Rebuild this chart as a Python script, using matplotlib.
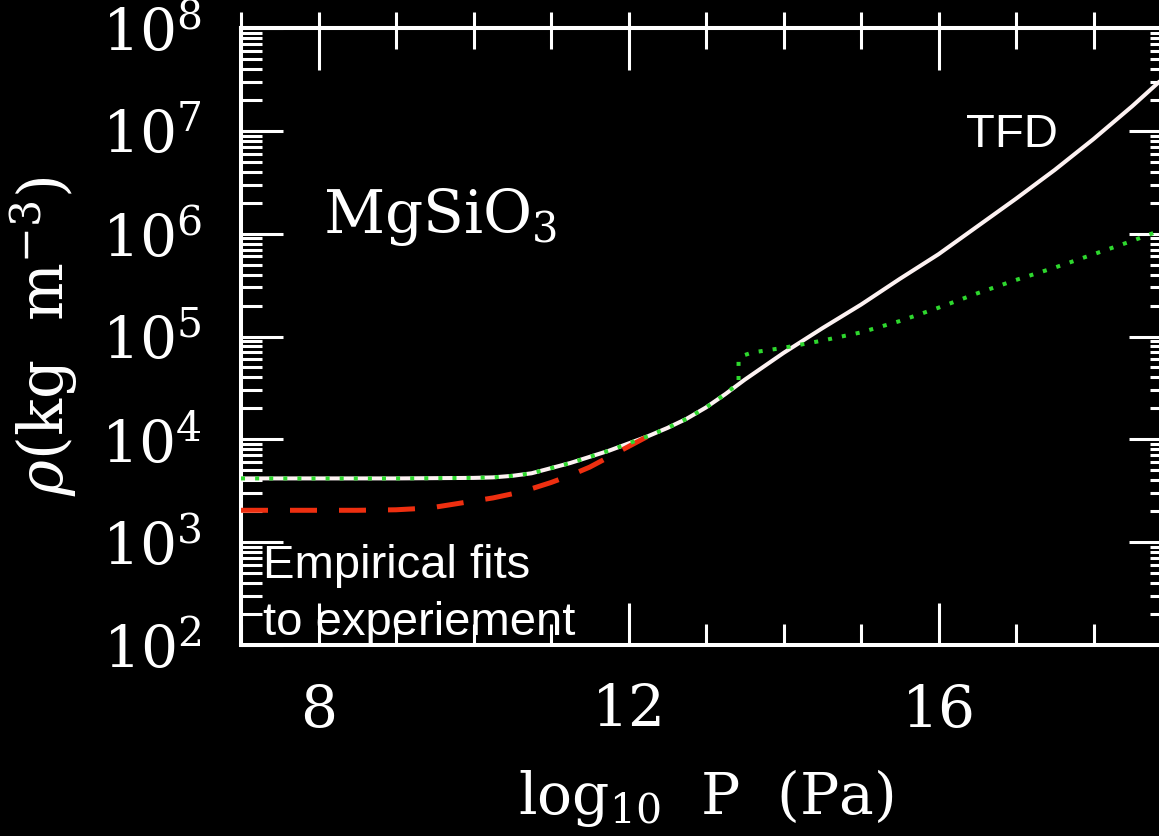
import matplotlib
matplotlib.use("Agg")
import matplotlib.pyplot as plt
from matplotlib.ticker import MultipleLocator, LogLocator, NullFormatter

# ---- values (x = log10 P [Pa], y = log10 rho [kg m^-3]) ----
tfd_x = [7.0, 8.0, 9.0, 10.0, 10.25, 10.5, 10.75, 11.0, 11.25, 11.5, 11.75,
         12.0, 12.25, 12.5, 12.75, 13.0, 13.25, 13.5, 13.75, 14.0, 14.5,
         15.0, 15.5, 16.0, 16.5, 17.0, 17.5, 18.0, 18.5, 19.0]
tfd_logrho = [3.62, 3.62, 3.62, 3.625, 3.63, 3.645, 3.67, 3.72, 3.77, 3.83,
              3.89, 3.96, 4.03, 4.11, 4.20, 4.31, 4.44, 4.58, 4.71, 4.84,
              5.08, 5.31, 5.56, 5.80, 6.07, 6.34, 6.62, 6.92, 7.24, 7.58]

green_x = [7.0, 8.0, 9.0, 10.0, 10.25, 10.5, 10.75, 11.0, 11.25, 11.5, 11.75,
           12.0, 12.25, 12.5, 12.75, 13.0, 13.25, 13.42, 13.42, 13.5, 13.6,
           14.0, 14.5, 15.0, 15.5, 16.0, 16.5, 17.0, 17.5, 18.0, 18.5, 19.0]
green_logrho = [3.62, 3.62, 3.62, 3.625, 3.63, 3.645, 3.67, 3.72, 3.77, 3.83,
                3.89, 3.96, 4.03, 4.11, 4.20, 4.31, 4.44, 4.55, 4.77, 4.82,
                4.845, 4.89, 4.96, 5.04, 5.15, 5.28, 5.42, 5.55, 5.67, 5.80,
                5.93, 6.07]

red_x = [7.0, 8.0, 8.5, 9.0, 9.25, 9.5, 9.75, 10.0, 10.25, 10.5, 10.75,
         11.0, 11.25, 11.5, 11.75, 12.0, 12.25]
red_logrho = [3.31, 3.31, 3.31, 3.315, 3.325, 3.34, 3.37, 3.40, 3.43, 3.47,
              3.52, 3.58, 3.65, 3.73, 3.83, 3.93, 4.03]

plt.rcParams["font.family"] = "DejaVu Serif"
plt.rcParams["mathtext.fontset"] = "dejavuserif"

fig = plt.figure(figsize=(11.59, 8.36), dpi=100, facecolor="black")
ax = fig.add_axes([241 / 1159, 191 / 836, 930 / 1159, 617 / 836])
ax.set_facecolor("black")

ax.plot(tfd_x, [10 ** v for v in tfd_logrho], color="#fdf2f2", lw=2.9,
        solid_capstyle="butt", zorder=3)
ax.plot(red_x, [10 ** v for v in red_logrho], color="#ee2f10", lw=3.6,
        dashes=(5.4, 4.4), zorder=4)
ax.plot(green_x, [10 ** v for v in green_logrho], color="#2ed82e", lw=2.9,
        dashes=(1, 2.5), zorder=5)

ax.set_yscale("log")
ax.set_xlim(7, 19)
ax.set_ylim(1e2, 1e8)

ax.xaxis.set_major_locator(MultipleLocator(4))
ax.xaxis.set_minor_locator(MultipleLocator(1))
ax.yaxis.set_major_locator(LogLocator(base=10, numticks=20))
ax.yaxis.set_minor_locator(LogLocator(base=10, subs=range(2, 10), numticks=20))
ax.yaxis.set_minor_formatter(NullFormatter())

for s in ax.spines.values():
    s.set_color("white")
    s.set_linewidth(2.9)

ax.tick_params(which="both", direction="in", color="white", width=2.2,
               top=True, right=True, labelcolor="white", labelsize=42)
ax.tick_params(which="major", length=30)
ax.tick_params(which="minor", length=15)
ax.tick_params(axis="x", pad=27)
ax.tick_params(axis="y", pad=28)

# short outward stubs above the top axis
sec = ax.secondary_xaxis("top")
sec.xaxis.set_major_locator(MultipleLocator(4))
sec.xaxis.set_minor_locator(MultipleLocator(1))
sec.tick_params(which="both", direction="out", length=11.5, width=2.2,
                color="white", labeltop=False)
sec.spines["top"].set_color("white")
sec.spines["top"].set_linewidth(2.9)

ax.set_xlabel(r"log$_{10}$  P  (Pa)", color="white", fontsize=42, va="top")
ax.xaxis.set_label_coords(0.5, -0.198)
ax.set_ylabel(r"$\rho$(kg  m$^{-3}$)", color="white", fontsize=44)
ax.yaxis.set_label_coords(-0.173, 0.5)

ax.text(8.06, 10 ** 6.01, r"MgSiO$_3$", color="white", fontsize=43,
        ha="left", va="baseline")
ax.text(16.35, 10 ** 6.84, "TFD", color="white", fontsize=34,
        family="Liberation Sans", ha="left", va="baseline")
ax.text(7.28, 10 ** 2.65, "Empirical fits", color="white", fontsize=34,
        family="Liberation Sans", ha="left", va="baseline", zorder=6)
ax.text(7.28, 10 ** 2.10, "to experiement", color="white", fontsize=34,
        family="Liberation Sans", ha="left", va="baseline", zorder=6)

fig.savefig("out.png", dpi=100, facecolor="black")
